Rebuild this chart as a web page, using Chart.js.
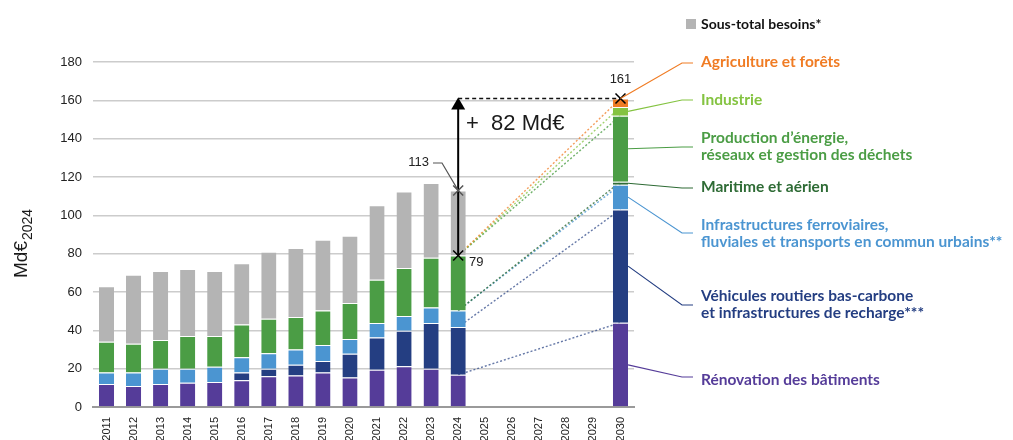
<!DOCTYPE html>
<html>
<head>
<meta charset="utf-8">
<script src="https://cdn.jsdelivr.net/npm/chart.js@4.4.0/dist/chart.umd.min.js"></script>
<style>
  html, body { margin: 0; padding: 0; background: #fff; }
  #c { display: block; }
</style>
</head>
<body>
<canvas id="c" width="1013" height="440"></canvas>
<script>
// --- data (Md€ 2024) ---
const years = ['2011','2012','2013','2014','2015','2016','2017','2018','2019','2020',
               '2021','2022','2023','2024','2025','2026','2027','2028','2029','2030'];
const renovation  = [12, 11, 12, 12.7, 13, 14, 16, 16.5, 18, 15.4, 19.4, 21.3, 19.9, 16.8, null, null, null, null, null, 44];
const vehicules   = [null, null, null, null, null, 4, 4, 5.5, 6, 12.4, 16.9, 18.5, 23.9, 24.9, null, null, null, null, null, 59];
const ferroviaire = [6, 7, 8, 7.3, 8, 8, 8, 8, 8.3, 7.7, 7.5, 7.7, 8.1, 8.6, null, null, null, null, null, 13];
const maritime    = [null, null, null, null, null, null, null, null, null, null, null, null, null, null, null, null, null, null, null, 1.5];
const energie     = [16, 15, 15, 17, 16, 17, 18, 17, 18, 18.8, 22.6, 25, 26, 28.7, null, null, null, null, null, 34.5];
const industrie   = [null, null, null, null, null, null, null, null, null, null, null, null, null, null, null, null, null, null, null, 4.5];
const agriculture = [null, null, null, null, null, null, null, null, null, null, null, null, null, null, null, null, null, null, null, 4.5];
const sousTotal   = [29, 36, 36, 35, 34, 32, 35, 36, 37, 35, 38.9, 40, 39, 34, null, null, null, null, null, null];
const yTicks = [0, 20, 40, 60, 80, 100, 120, 140, 160, 180];

const COL = {
  renovation: '#553c99', vehicules: '#243e82', ferroviaire: '#4b95d1', maritime: '#2e6b35',
  energie: '#4b9d45', industrie: '#84c341', agriculture: '#f07c24', sousTotal: '#b4b4b4'
};

// stack order from bottom to top
const stackSeries = [renovation, vehicules, ferroviaire, maritime, energie, industrie, agriculture, sousTotal];
function stackTop(i, upto) {
  let s = 0;
  for (let k = 0; k <= upto; k++) s += stackSeries[k][i] || 0;
  return s;
}
const i24 = years.indexOf('2024');
const i30 = years.indexOf('2030');

// dotted links 2024 -> 2030 (stack level reached at 2024, stack level at 2030)
function link(lvl24, lvl30) {
  const arr = years.map(() => null);
  arr[i24] = stackTop(i24, lvl24);
  arr[i30] = stackTop(i30, lvl30);
  return arr;
}

function barSet(label, data, color) {
  return { type: 'bar', label, data, backgroundColor: color, borderColor: '#ffffff',
           borderWidth: { top: 1, left: 0, right: 0, bottom: 0 }, stack: 'a', yAxisID: 'y', order: 1 };
}
function linkSet(data, color) {
  return { type: 'line', data, borderColor: color, borderWidth: 1.4, borderDash: [2, 2],
           pointRadius: 0, spanGaps: true, yAxisID: 'y2', order: 10, fill: false };
}

// right-hand labels: text, colour, segment index on 2030 bar, layout (px)
const rightLabels = [
  { lines: ['Agriculture et forêts'], color: COL.agriculture, seg: 6, elbowY: 63, textY: 62, fromTop: true },
  { lines: ['Industrie'], color: COL.industrie, seg: 5, elbowY: 100, textY: 100 },
  { lines: ['Production d\u2019énergie,', 'réseaux et gestion des déchets'], color: COL.energie, seg: 4, elbowY: 147, textY: 138 },
  { lines: ['Maritime et aérien'], color: COL.maritime, seg: 3, elbowY: 188, textY: 187 },
  { lines: ['Infrastructures ferroviaires,', 'fluviales et transports en commun urbains**'], color: COL.ferroviaire, seg: 2, elbowY: 233, textY: 225 },
  { lines: ['Véhicules routiers bas-carbone', 'et infrastructures de recharge***'], color: COL.vehicules, seg: 1, elbowY: 305, textY: 296 },
  { lines: ['Rénovation des bâtiments'], color: COL.renovation, seg: 0, elbowY: 377, textY: 380 }
];

function cross(ctx, cx, cy, color) {
  ctx.save();
  ctx.strokeStyle = color;
  ctx.lineWidth = 1.5;
  ctx.beginPath();
  ctx.moveTo(cx - 5, cy - 5); ctx.lineTo(cx + 5, cy + 5);
  ctx.moveTo(cx + 5, cy - 5); ctx.lineTo(cx - 5, cy + 5);
  ctx.stroke();
  ctx.restore();
}

const annotations = {
  id: 'annotations',
  afterDatasetsDraw(chart) {
    const ctx = chart.ctx;
    const x = chart.scales.x, y = chart.scales.y;
    const x24 = x.getPixelForValue(i24);
    const x30 = x.getPixelForValue(i30);
    const half = chart.getDatasetMeta(0).data[i30].width / 2;
    const green24 = stackTop(i24, 4);
    const total24 = stackTop(i24, 7);
    const total30 = stackTop(i30, 6);

    // dashed level line
    ctx.save();
    ctx.strokeStyle = '#111';
    ctx.lineWidth = 1.5;
    ctx.setLineDash([4, 3]);
    ctx.beginPath();
    ctx.moveTo(x24, y.getPixelForValue(total30));
    ctx.lineTo(x30, y.getPixelForValue(total30));
    ctx.stroke();
    ctx.restore();

    // arrow
    const tipY = y.getPixelForValue(total30) - 1;
    ctx.save();
    ctx.strokeStyle = '#000';
    ctx.fillStyle = '#000';
    ctx.lineWidth = 2;
    ctx.beginPath();
    ctx.moveTo(x24, y.getPixelForValue(green24));
    ctx.lineTo(x24, tipY + 10);
    ctx.stroke();
    ctx.beginPath();
    ctx.moveTo(x24, tipY);
    ctx.lineTo(x24 - 7, tipY + 12);
    ctx.lineTo(x24 + 7, tipY + 12);
    ctx.closePath();
    ctx.fill();
    ctx.restore();

    // 113 leader
    ctx.save();
    ctx.strokeStyle = '#555';
    ctx.lineWidth = 1.2;
    ctx.beginPath();
    ctx.moveTo(433, 163);
    ctx.lineTo(442, 163);
    ctx.lineTo(x24, y.getPixelForValue(total24));
    ctx.stroke();
    ctx.restore();

    cross(ctx, x24, y.getPixelForValue(green24), '#000');
    cross(ctx, x24, y.getPixelForValue(total24), '#555');
    cross(ctx, x30, y.getPixelForValue(total30), '#000');

    ctx.save();
    ctx.fillStyle = '#222';
    ctx.font = '13px "Liberation Sans", Arial, sans-serif';
    ctx.textBaseline = 'middle';
    ctx.textAlign = 'right';
    ctx.fillText(String(Math.round(total24)), 429, 162);
    ctx.textAlign = 'left';
    ctx.fillText(String(Math.round(green24)), 469, y.getPixelForValue(green24) + 7);
    ctx.textAlign = 'center';
    ctx.fillText(String(Math.round(total30)), x30, y.getPixelForValue(total30) - 19);
    ctx.font = '22px "Liberation Sans", Arial, sans-serif';
    ctx.textAlign = 'left';
    ctx.fillStyle = '#1a1a1a';
    ctx.fillText('+  ' + Math.round(total30 - green24) + ' Md\u20ac', 466, 124);
    ctx.restore();

    // right labels with leaders
    ctx.save();
    ctx.font = 'bold 15.5px Lato, "Open Sans", sans-serif';
    ctx.textBaseline = 'middle';
    ctx.textAlign = 'left';
    rightLabels.forEach(l => {
      const lo = stackTop(i30, l.seg) - (stackSeries[l.seg][i30] || 0);
      const hi = stackTop(i30, l.seg);
      let sx, sy;
      if (l.fromTop) { sx = x30; sy = y.getPixelForValue(hi); }
      else { sx = x30 + half; sy = y.getPixelForValue((lo + hi) / 2); }
      ctx.strokeStyle = l.color;
      ctx.lineWidth = 1.2;
      ctx.beginPath();
      ctx.moveTo(sx, sy);
      ctx.lineTo(682, l.elbowY);
      ctx.lineTo(693, l.elbowY);
      ctx.stroke();
      ctx.fillStyle = l.color;
      l.lines.forEach((t, k) => ctx.fillText(t, 701, l.textY + k * 17));
    });

    // legend
    ctx.fillStyle = COL.sousTotal;
    ctx.fillRect(686, 19, 10, 10);
    ctx.fillStyle = '#111';
    ctx.font = 'bold 14px Lato, "Open Sans", sans-serif';
    ctx.fillText('Sous-total besoins*', 701, 24);
    ctx.restore();

    // y title
    ctx.save();
    ctx.translate(27, 278);
    ctx.rotate(-Math.PI / 2);
    ctx.fillStyle = '#1a1a1a';
    ctx.textAlign = 'left';
    ctx.textBaseline = 'alphabetic';
    ctx.font = '19px "Liberation Sans", Arial, sans-serif';
    ctx.fillText('Md\u20ac', 0, 0);
    const w = ctx.measureText('Md\u20ac').width;
    ctx.font = '14px "Liberation Sans", Arial, sans-serif';
    ctx.fillText('2024', w + 1, 5);
    ctx.restore();
  }
};

new Chart(document.getElementById('c'), {
  data: {
    labels: years,
    datasets: [
      barSet('Rénovation des bâtiments', renovation, COL.renovation),
      barSet('Véhicules routiers bas-carbone', vehicules, COL.vehicules),
      barSet('Infrastructures ferroviaires', ferroviaire, COL.ferroviaire),
      barSet('Maritime et aérien', maritime, COL.maritime),
      barSet('Production d\u2019énergie', energie, COL.energie),
      barSet('Industrie', industrie, COL.industrie),
      barSet('Agriculture et forêts', agriculture, COL.agriculture),
      barSet('Sous-total besoins*', sousTotal, COL.sousTotal),
      linkSet(link(4, 6), 'rgba(240,124,36,0.75)'),
      linkSet(link(4, 5), 'rgba(132,195,65,0.75)'),
      linkSet(link(4, 4), 'rgba(75,157,69,0.8)'),
      linkSet(link(2, 3), 'rgba(46,107,53,0.8)'),
      linkSet(link(2, 2), 'rgba(75,149,209,0.8)'),
      linkSet(link(1, 1), 'rgba(36,62,130,0.7)'),
      linkSet(link(0, 0), 'rgba(36,62,130,0.7)')
    ]
  },
  options: {
    responsive: false,
    animation: false,
    layout: { padding: { left: 0, right: 379, top: 62, bottom: 0 } },
    plugins: { legend: { display: false }, tooltip: { enabled: false } },
    datasets: { bar: { barPercentage: 0.56, categoryPercentage: 1 } },
    scales: {
      x: {
        stacked: true,
        grid: { display: false },
        border: { display: true, color: '#9a9a9a', width: 2 },
        ticks: {
          autoSkip: false, minRotation: 90, maxRotation: 90, padding: 2, color: '#222',
          font: { family: '"Liberation Sans", Arial, sans-serif', size: 11 }
        },
        afterFit(scale) { scale.height = 33; }
      },
      y: {
        stacked: true,
        min: 0, max: 180,
        afterBuildTicks(scale) { scale.ticks = yTicks.map(v => ({ value: v })); },
        grid: { color: '#cccccc', lineWidth: 1.5, drawTicks: false },
        border: { display: false },
        ticks: {
          padding: 11, color: '#222',
          font: { family: '"Liberation Sans", Arial, sans-serif', size: 13 }
        },
        afterFit(scale) { scale.width = 93; }
      },
      y2: { display: false, min: 0, max: 180, stacked: false }
    }
  },
  plugins: [annotations]
});
</script>
</body>
</html>
